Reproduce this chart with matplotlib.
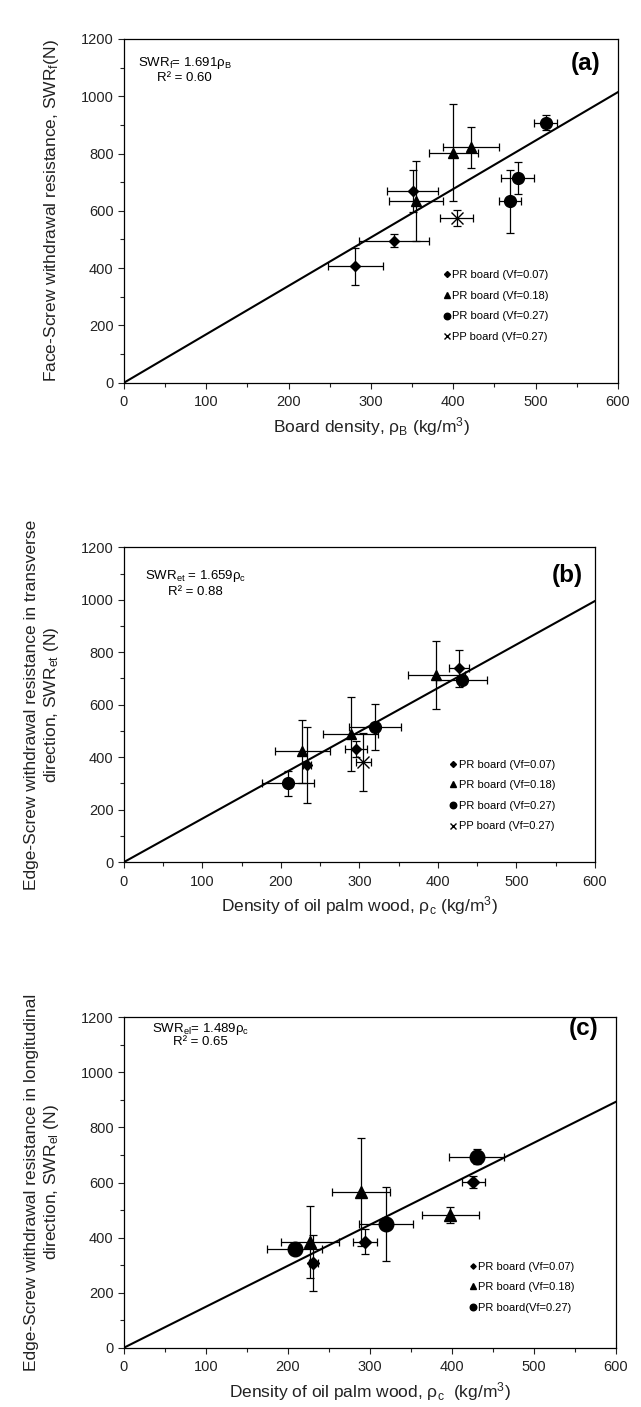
import matplotlib.pyplot as plt
from matplotlib.ticker import MultipleLocator

plt.rcParams['font.family'] = ['Liberation Sans', 'DejaVu Sans']
plt.rcParams['mathtext.fontset'] = 'custom'
plt.rcParams['mathtext.rm'] = 'Liberation Sans'
plt.rcParams['mathtext.it'] = 'Liberation Sans'

# ---- panel (a): face screw withdrawal vs board density
a_d_x = [281, 328, 351]
a_d_y = [407, 496, 669]
a_d_xe = [33, 42, 31]
a_d_ye = [65, 22, 72]
a_t_x = [355, 400, 422]
a_t_y = [633, 803, 822]
a_t_xe = [33, 30, 34]
a_t_ye = [140, 170, 72]
a_c_x = [512, 478, 469]
a_c_y = [908, 714, 633]
a_c_xe = [14, 20, 13]
a_c_ye = [25, 56, 109]
a_x_x = [404]
a_x_y = [575]
a_x_xe = [20]
a_x_ye = [29]
a_slope = 1.691

# ---- panel (b): edge screw, transverse
b_d_x = [427, 295, 233]
b_d_y = [739, 431, 371]
b_d_xe = [13, 14, 5]
b_d_ye = [71, 32, 145]
b_t_x = [398, 289, 227]
b_t_y = [713, 487, 422]
b_t_xe = [36, 35, 35]
b_t_ye = [128, 141, 121]
b_c_x = [430, 320, 209]
b_c_y = [695, 515, 300]
b_c_xe = [32, 33, 33]
b_c_ye = [15, 86, 48]
b_x_x = [305]
b_x_y = [382]
b_x_xe = [10]
b_x_ye = [111]
b_slope = 1.659

# ---- panel (c): edge screw, longitudinal
c_d_x = [426, 294, 231]
c_d_y = [601, 385, 308]
c_d_xe = [14, 15, 5]
c_d_ye = [21, 46, 103]
c_t_x = [398, 289, 227]
c_t_y = [482, 567, 383]
c_t_xe = [35, 35, 35]
c_t_ye = [29, 196, 131]
c_c_x = [430, 320, 208]
c_c_y = [694, 449, 360]
c_c_xe = [34, 33, 33]
c_c_ye = [27, 133, 12]
c_slope = 1.489

fig = plt.figure(figsize=(6.41, 14.07), dpi=100)
ax_a = fig.add_axes([0.1934, 0.7280, 0.7707, 0.2443])
ax_b = fig.add_axes([0.1934, 0.3873, 0.7348, 0.2237])
ax_c = fig.add_axes([0.1934, 0.04215, 0.7676, 0.2348])


def series(ax, x, y, xe, ye, marker, ms, label):
    ax.errorbar(x, y, xerr=xe, yerr=ye, fmt='none', ecolor='black',
                elinewidth=0.9, capsize=3, capthick=0.9, zorder=2)
    ax.plot(x, y, linestyle='none', marker=marker, ms=ms, color='black',
            mec='black', mew=1.0, label=label, zorder=3)


def style(ax, slope, xlabel, ylabel):
    xs = [0, 600]
    ax.plot(xs, [slope * v for v in xs], color='black', lw=1.5, zorder=1)
    ax.set_xlim(0, 600)
    ax.set_ylim(0, 1200)
    ax.xaxis.set_major_locator(MultipleLocator(100))
    ax.xaxis.set_minor_locator(MultipleLocator(50))
    ax.yaxis.set_major_locator(MultipleLocator(200))
    ax.yaxis.set_minor_locator(MultipleLocator(100))
    ax.tick_params(which='both', direction='out', labelsize=10.5,
                   colors='#222222', width=0.8)
    ax.tick_params(which='major', length=4)
    ax.tick_params(which='minor', length=3)
    ax.tick_params(axis='x', pad=5)
    for s in ax.spines.values():
        s.set_linewidth(0.9)
    ax.set_xlabel(xlabel, fontsize=12.5, color='#222222', labelpad=4)
    ax.set_ylabel(ylabel, fontsize=12.5, color='#222222', labelpad=14)


def legend(ax, x0, y0, scale):
    ax.legend(loc='upper left', bbox_to_anchor=(x0, y0), frameon=False,
              fontsize=8, handlelength=0.6, handletextpad=0.2,
              labelspacing=0.95, borderaxespad=0, borderpad=0,
              markerscale=scale)


# panel (a)
series(ax_a, a_d_x, a_d_y, a_d_xe, a_d_ye, 'D', 5.5, 'PR board (Vf=0.07)')
series(ax_a, a_t_x, a_t_y, a_t_xe, a_t_ye, '^', 7.5, 'PR board (Vf=0.18)')
series(ax_a, a_c_x, a_c_y, a_c_xe, a_c_ye, 'o', 8.5, 'PR board (Vf=0.27)')
series(ax_a, a_x_x, a_x_y, a_x_xe, a_x_ye, 'x', 8, 'PP board (Vf=0.27)')
style(ax_a, a_slope, r'Board density, ρ$_\mathregular{B}$ (kg/m$^\mathregular{3}$)',
      r'Face-Screw withdrawal resistance, SWR$_\mathregular{f}$(N)')
ax_a.text(0.123, 0.930, r'SWR$_\mathregular{f}$= 1.691ρ$_\mathregular{B}$',
          transform=ax_a.transAxes, ha='center', va='center', fontsize=9.5)
ax_a.text(0.123, 0.886, 'R² = 0.60', transform=ax_a.transAxes,
          ha='center', va='center', fontsize=9.5)
ax_a.text(0.964, 0.930, '(a)', transform=ax_a.transAxes, ha='right',
          va='center', fontsize=17.5, fontweight='bold')
legend(ax_a, 0.647, 0.327, 0.55)

# panel (b)
series(ax_b, b_d_x, b_d_y, b_d_xe, b_d_ye, 'D', 5.5, 'PR board (Vf=0.07)')
series(ax_b, b_t_x, b_t_y, b_t_xe, b_t_ye, '^', 7.5, 'PR board (Vf=0.18)')
series(ax_b, b_c_x, b_c_y, b_c_xe, b_c_ye, 'o', 8.5, 'PR board (Vf=0.27)')
series(ax_b, b_x_x, b_x_y, b_x_xe, b_x_ye, 'x', 8, 'PP board (Vf=0.27)')
style(ax_b, b_slope, r'Density of oil palm wood, ρ$_\mathregular{c}$ (kg/m$^\mathregular{3}$)',
      'Edge-Screw withdrawal resistance in transverse\n'
      r'direction, SWR$_\mathregular{et}$ (N)')
ax_b.text(0.151, 0.909, r'SWR$_\mathregular{et}$ = 1.659ρ$_\mathregular{c}$',
          transform=ax_b.transAxes, ha='center', va='center', fontsize=9.5)
ax_b.text(0.151, 0.858, 'R² = 0.88', transform=ax_b.transAxes,
          ha='center', va='center', fontsize=9.5)
ax_b.text(0.975, 0.912, '(b)', transform=ax_b.transAxes, ha='right',
          va='center', fontsize=17.5, fontweight='bold')
legend(ax_b, 0.692, 0.325, 0.55)

# panel (c)
series(ax_c, c_d_x, c_d_y, c_d_xe, c_d_ye, 'D', 6, 'PR board (Vf=0.07)')
series(ax_c, c_t_x, c_t_y, c_t_xe, c_t_ye, '^', 9, 'PR board (Vf=0.18)')
series(ax_c, c_c_x, c_c_y, c_c_xe, c_c_ye, 'o', 10.5, 'PR board(Vf=0.27)')
style(ax_c, c_slope, r'Density of oil palm wood, ρ$_\mathregular{c}$  (kg/m$^\mathregular{3}$)',
      'Edge-Screw withdrawal resistance in longitudinal\n'
      r'direction, SWR$_\mathregular{el}$ (N)')
ax_c.text(0.156, 0.966, r'SWR$_\mathregular{el}$= 1.489ρ$_\mathregular{c}$',
          transform=ax_c.transAxes, ha='center', va='center', fontsize=9.5)
ax_c.text(0.156, 0.926, 'R² = 0.65', transform=ax_c.transAxes,
          ha='center', va='center', fontsize=9.5)
ax_c.text(0.965, 0.966, '(c)', transform=ax_c.transAxes, ha='right',
          va='center', fontsize=17.5, fontweight='bold')
legend(ax_c, 0.702, 0.26, 0.45)

fig.savefig('out.png', dpi=100)
